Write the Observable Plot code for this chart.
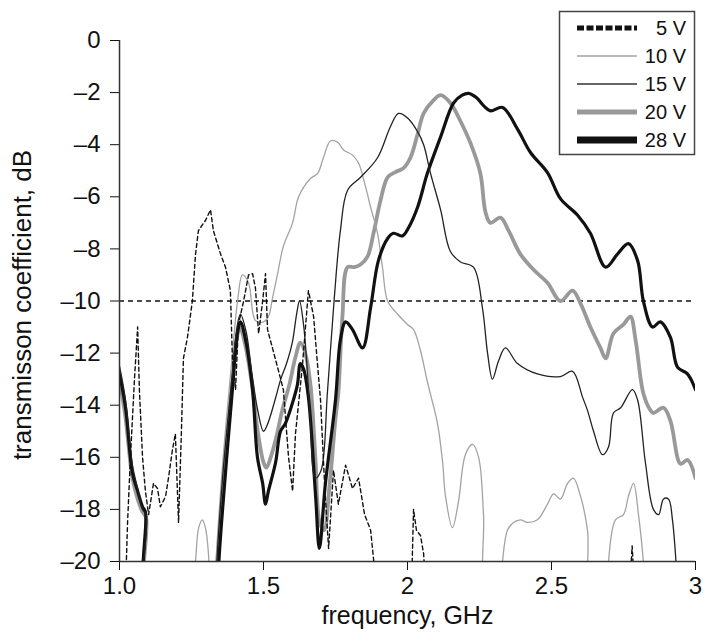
<!DOCTYPE html>
<html><head><meta charset="utf-8">
<script src="https://cdn.jsdelivr.net/npm/d3@7"></script>
<script src="https://cdn.jsdelivr.net/npm/@observablehq/plot@0.6"></script>
<style>
body{margin:0;background:#fff;}
#wrap{position:relative;width:703px;height:637px;}
#legend{position:absolute;left:0;top:0;pointer-events:none;}
</style></head><body><div id="wrap"></div>
<script>
// ---- data (frequency GHz, transmission dB); values below -20 are off-scale ----
const seriesNames = ["5 V", "10 V", "15 V", "20 V", "28 V"];
const xTicks = [1, 1.5, 2, 2.5, 3];
const xTickLabels = ["1.0", "1.5", "2", "2.5", "3"];
const yTicks = [0, -2, -4, -6, -8, -10, -12, -14, -16, -18, -20];
const thresholdDb = [-10];
const xLabel = "frequency, GHz";
const yLabel = "transmisson coefficient, dB";

const v5 = [[1.021,-21],[1.028,-18.5],[1.038,-16],[1.052,-13],[1.063,-11.0],[1.069,-13.4],[1.080,-16.0],[1.090,-17.3],[1.101,-18.2],[1.118,-17.0],[1.132,-17.2],[1.142,-17.9],[1.160,-17.5],[1.170,-16.8],[1.184,-15.7],[1.194,-15.1],[1.205,-18.5],[1.215,-15],[1.222,-12.2],[1.236,-11.4],[1.253,-10.0],[1.264,-8.2],[1.274,-7.3],[1.299,-6.9],[1.316,-6.5],[1.326,-7.3],[1.351,-8.2],[1.368,-8.7],[1.385,-9.6],[1.392,-12.2],[1.403,-13.4],[1.413,-10.9],[1.431,-10.0],[1.448,-9.0],[1.462,-8.95],[1.472,-9.5],[1.483,-11.25],[1.497,-10.0],[1.507,-8.95],[1.514,-11.1],[1.531,-11.8],[1.549,-12.55],[1.569,-13.4],[1.587,-16.0],[1.601,-17.3],[1.611,-15.1],[1.635,-12.5],[1.656,-9.6],[1.674,-10.6],[1.688,-12.5],[1.698,-13.8],[1.712,-17.0],[1.726,-19.5],[1.743,-16.5],[1.760,-17.8],[1.785,-16.3],[1.809,-17.2],[1.830,-16.8],[1.851,-18.2],[1.872,-18.8],[1.892,-21],[2.014,-21],[2.021,-18.0],[2.031,-18.8],[2.045,-19.0],[2.056,-19.7],[2.063,-21],[2.772,-21],[2.780,-19.4],[2.788,-21]];

const v10 = [[1.255,-21],[1.264,-20],[1.275,-18.7],[1.288,-18.4],[1.300,-18.8],[1.316,-21],[1.322,-23],[1.335,-20],[1.36,-16.0],[1.39,-12.3],[1.41,-10.0],[1.427,-9.0],[1.448,-9.3],[1.472,-10.75],[1.500,-10.8],[1.517,-10.6],[1.531,-9.9],[1.549,-8.95],[1.569,-7.9],[1.601,-7.0],[1.622,-6.0],[1.663,-5.3],[1.688,-5.1],[1.708,-4.5],[1.733,-3.85],[1.757,-3.9],[1.778,-4.2],[1.809,-4.4],[1.830,-4.7],[1.854,-5.6],[1.872,-6.4],[1.896,-7.4],[1.913,-8.7],[1.931,-10.0],[1.965,-10.5],[2.000,-10.9],[2.021,-11.1],[2.045,-11.9],[2.069,-13.1],[2.104,-14.7],[2.122,-16.2],[2.132,-17.5],[2.156,-18.7],[2.177,-17.7],[2.201,-15.9],[2.226,-15.5],[2.247,-16.0],[2.264,-18.2],[2.274,-21],[2.325,-21],[2.330,-20],[2.347,-18.8],[2.368,-18.5],[2.392,-18.4],[2.417,-18.5],[2.451,-18.4],[2.486,-17.8],[2.507,-17.4],[2.531,-17.6],[2.556,-17.0],[2.576,-16.8],[2.601,-17.5],[2.625,-18.8],[2.639,-21],[2.695,-21],[2.698,-20],[2.722,-18.4],[2.750,-18.2],[2.767,-17.5],[2.785,-17.0],[2.802,-18.2],[2.819,-20],[2.825,-21]];

const v15 = [[1.000,-12.5],[1.021,-13.8],[1.045,-16.3],[1.063,-17.2],[1.080,-18.0],[1.092,-18.2],[1.097,-22],[1.318,-25],[1.338,-20],[1.36,-16.5],[1.39,-13.0],[1.408,-11.0],[1.42,-10.5],[1.44,-11.2],[1.46,-12.8],[1.48,-14.2],[1.50,-15.0],[1.515,-14.7],[1.54,-13.8],[1.56,-13.0],[1.58,-12.4],[1.60,-11.6],[1.615,-10.5],[1.625,-10.0],[1.64,-11.0],[1.66,-14.0],[1.68,-16.8],[1.70,-16.5],[1.722,-13.5],[1.745,-10.0],[1.767,-7.3],[1.792,-5.75],[1.837,-5.25],[1.896,-4.5],[1.941,-3.3],[1.969,-2.8],[2.003,-3.0],[2.035,-3.5],[2.056,-4.0],[2.080,-5.1],[2.115,-6.5],[2.149,-8.1],[2.184,-8.5],[2.229,-8.7],[2.260,-10.25],[2.278,-12.0],[2.295,-13.0],[2.316,-12.3],[2.340,-11.8],[2.382,-12.4],[2.451,-12.8],[2.531,-12.9],[2.573,-12.7],[2.608,-13.7],[2.625,-14.2],[2.646,-15.0],[2.677,-15.9],[2.698,-15.6],[2.715,-14.3],[2.740,-14.1],[2.781,-13.4],[2.799,-13.8],[2.826,-16.2],[2.854,-18.0],[2.872,-18.2],[2.889,-17.6],[2.906,-17.6],[2.920,-18.4],[2.938,-21]];

const v20 = [[1.000,-13.0],[1.021,-14.5],[1.045,-16.8],[1.063,-17.6],[1.080,-18.1],[1.092,-18.3],[1.097,-22],[1.32,-25],[1.34,-20],[1.365,-16.5],[1.39,-13.3],[1.408,-11.4],[1.418,-11.0],[1.435,-11.6],[1.46,-13.2],[1.48,-15.0],[1.50,-16.2],[1.51,-16.4],[1.525,-16.0],[1.545,-15.2],[1.565,-14.2],[1.59,-13.2],[1.61,-12.2],[1.628,-11.6],[1.645,-12.0],[1.663,-13.2],[1.68,-16.0],[1.695,-18.5],[1.71,-18.8],[1.73,-17.0],[1.75,-14.5],[1.76,-13.5],[1.774,-10.6],[1.792,-8.7],[1.815,-8.7],[1.837,-8.6],[1.861,-8.3],[1.882,-7.4],[1.906,-6.15],[1.931,-5.25],[1.958,-5.05],[1.986,-4.9],[2.010,-4.5],[2.035,-3.6],[2.056,-2.8],[2.090,-2.3],[2.115,-2.1],[2.149,-2.4],[2.184,-3.1],[2.219,-3.95],[2.253,-5.1],[2.271,-6.6],[2.288,-7.0],[2.323,-6.8],[2.351,-7.3],[2.392,-8.2],[2.438,-8.8],[2.486,-9.3],[2.531,-10.0],[2.573,-9.6],[2.601,-10.1],[2.635,-11.0],[2.670,-11.8],[2.688,-12.2],[2.715,-11.25],[2.750,-10.9],[2.774,-10.6],[2.792,-11.5],[2.819,-13.55],[2.844,-14.2],[2.854,-14.3],[2.889,-14.1],[2.913,-14.6],[2.948,-16.25],[2.972,-16.1],[3.0,-16.8]];

const v28 = [[1.000,-12.8],[1.021,-14.1],[1.045,-16.6],[1.063,-17.3],[1.080,-17.9],[1.090,-18.1],[1.097,-22],[1.325,-25],[1.345,-20],[1.368,-16.6],[1.392,-13.4],[1.410,-11.2],[1.420,-10.8],[1.438,-11.5],[1.462,-13.4],[1.479,-16.0],[1.497,-17.0],[1.507,-17.8],[1.517,-17.3],[1.542,-16.2],[1.559,-15.0],[1.576,-14.7],[1.601,-13.9],[1.618,-13.2],[1.628,-12.4],[1.639,-12.6],[1.656,-13.7],[1.681,-17.5],[1.694,-19.5],[1.715,-17.0],[1.750,-13.8],[1.767,-11.5],[1.785,-10.8],[1.809,-11.1],[1.844,-11.8],[1.872,-10.25],[1.899,-8.45],[1.931,-7.6],[1.951,-7.4],[1.983,-7.5],[2.003,-7.2],[2.035,-6.4],[2.069,-5.1],[2.115,-3.7],[2.160,-2.4],[2.190,-2.1],[2.212,-2.03],[2.240,-2.2],[2.264,-2.5],[2.288,-2.7],[2.330,-2.57],[2.382,-3.4],[2.427,-4.3],[2.486,-5.07],[2.531,-6.07],[2.590,-6.7],[2.635,-7.4],[2.688,-8.7],[2.729,-8.2],[2.767,-7.8],[2.799,-8.45],[2.819,-10.0],[2.851,-11.0],[2.878,-10.8],[2.913,-11.4],[2.938,-12.55],[2.972,-12.8],[3.000,-13.4]];

// ---- styles ----
const seriesData = [v5, v10, v15, v20, v28];
const lineStyle = [
  {stroke: "#111", strokeWidth: 1.4, strokeDasharray: "4,3", curve: "linear"},
  {stroke: "#a3a3a3", strokeWidth: 1.3, curve: "catmull-rom"},
  {stroke: "#222", strokeWidth: 1.3, curve: "catmull-rom"},
  {stroke: "#999", strokeWidth: 3.8, curve: "catmull-rom"},
  {stroke: "#111", strokeWidth: 3.2, curve: "catmull-rom"}
];
const legendStyle = [
  {stroke: "#111", width: 5, dash: "7,2.5"},
  {stroke: "#a3a3a3", width: 1.6},
  {stroke: "#333", width: 1.6},
  {stroke: "#999", width: 5},
  {stroke: "#111", width: 7}
];
const drawOrder = [3, 1, 4, 2, 0];
const font = "'Liberation Sans', Arial, Helvetica, sans-serif";

const rows = seriesData.map(arr => arr.map(([f, db]) => ({f, db})));

const chart = Plot.plot({
  width: 703, height: 637,
  marginLeft: 119, marginRight: 8, marginTop: 40, marginBottom: 76,
  style: {fontFamily: font, fontSize: "24px", color: "#111", background: "#fff", overflow: "visible"},
  x: {domain: [1, 3], ticks: xTicks, tickFormat: d => xTickLabels[xTicks.indexOf(d)], tickSize: 9, tickPadding: 6, label: null},
  y: {domain: [-20, 0], ticks: yTicks, tickFormat: d => d === 0 ? "0" : "\u2013" + Math.abs(d), tickSize: 9, tickPadding: 10, label: null},
  marks: [
    Plot.ruleY(thresholdDb, {stroke: "#111", strokeWidth: 1.3, strokeDasharray: "5,4"}),
    ...drawOrder.map(i => Plot.line(rows[i], {x: "f", y: "db", clip: true, strokeLinejoin: "round", ...lineStyle[i]})),
    Plot.ruleX([1], {stroke: "#333", strokeWidth: 1.5}),
    Plot.ruleY([-20], {stroke: "#333", strokeWidth: 1.5}),
    Plot.text([xLabel], {text: d => d, frameAnchor: "bottom", textAnchor: "middle", lineAnchor: "middle", dy: 54, fontSize: 25, fill: "#111"}),
    Plot.text([yLabel], {text: d => d, frameAnchor: "left", textAnchor: "middle", lineAnchor: "middle", dx: -97, dy: 4, rotate: -90, fontSize: 26, fill: "#111"})
  ]
});
document.getElementById("wrap").appendChild(chart);

// ---- legend (inset box, top right) ----
const lg = d3.select("#wrap").append("svg").attr("id", "legend")
  .attr("width", 703).attr("height", 637).style("font-family", font);
lg.append("rect").attr("x", 559.5).attr("y", 11.5).attr("width", 135).attr("height", 143)
  .attr("fill", "#fff").attr("stroke", "#444").attr("stroke-width", 1.5);
seriesNames.forEach((name, i) => {
  const y = 28 + i * 28;
  const s = legendStyle[i];
  lg.append("line").attr("x1", 577).attr("x2", 637).attr("y1", y).attr("y2", y)
    .attr("stroke", s.stroke).attr("stroke-width", s.width)
    .attr("stroke-dasharray", s.dash || null);
  lg.append("text").attr("x", 686).attr("y", y).attr("dy", "0.35em")
    .attr("text-anchor", "end").attr("font-size", 20).attr("fill", "#111").text(name);
});
</script></body></html>
